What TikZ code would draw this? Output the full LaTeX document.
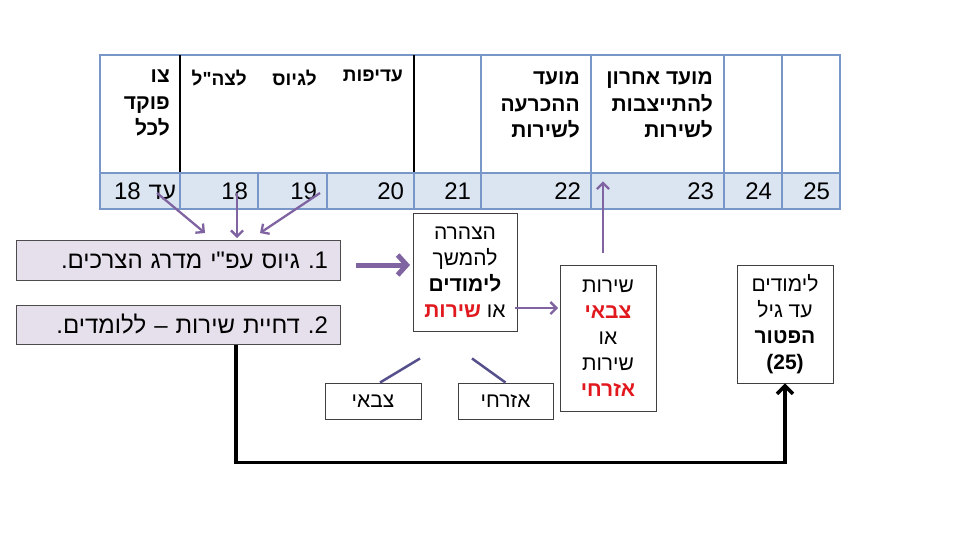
\documentclass[tikz,border=0pt]{standalone}
\usepackage{fontspec}
\setmainfont{Liberation Sans}[Script=Hebrew, Ligatures=TeXOff]
\usetikzlibrary{arrows.meta}
\TeXXeTstate=1
\frenchspacing
\newcommand{\hebline}[1]{\beginR #1\endR}
\newcommand{\hebred}[1]{\textcolor{hebred}{\textbf{\hebline{#1}}}}

\definecolor{tblue}{RGB}{120,150,200}
\definecolor{rowfill}{RGB}{219,229,241}
\definecolor{arrowpurple}{RGB}{128,100,162}
\definecolor{boxlilac}{RGB}{229,224,236}
\definecolor{hebred}{RGB}{225,25,30}
\definecolor{slateline}{RGB}{85,80,140}

\tikzset{
  numcell/.style={rectangle, draw=tblue, fill=rowfill, line width=1.2pt, minimum height=36pt,
    inner xsep=10pt, inner ysep=0pt, align=right, font=\fontsize{24}{26}\selectfont},
  hdr/.style={anchor=north east, inner sep=0pt, align=right, font=\bfseries\fontsize{21}{26.5}\selectfont},
  graybox/.style={rectangle, draw=black!70, fill=boxlilac, line width=1pt, minimum height=40pt,
    inner xsep=12pt, text width=300pt, align=right, font=\fontsize{24}{26}\selectfont},
  whitebox/.style={rectangle, draw=black!75, fill=white, line width=0.9pt, inner sep=0pt,
    align=center, font=\fontsize{21}{26}\selectfont},
  parrow/.style={draw=arrowpurple, line width=2.3pt, -{Straight Barb[length=6pt,width=12pt]}},
  bigarrow/.style={draw=arrowpurple, line width=5pt, -{Straight Barb[length=9pt,width=20pt]}},
  tline/.style={draw=slateline, line width=2.5pt},
  barrow/.style={draw=black, line width=3.5pt, -{Straight Barb[length=8pt,width=16pt]}}
}

\begin{document}
\begin{tikzpicture}[x=1pt, y=-1pt]
  \fill[white] (0,0) rectangle (955,536);
  \useasboundingbox (0,0) rectangle (955,536);

  % table, header row
  \draw[tblue, line width=1.2pt] (100,55) rectangle (840,173);
  \draw[tblue, line width=1.2pt] (481,55) -- (481,173) (591,55) -- (591,173)
    (724,55) -- (724,173) (782,55) -- (782,173);
  \draw[black, line width=1.2pt] (180,55) -- (180,173) (414,55) -- (414,173);

  % table, age row
  \node[numcell, inner xsep=4pt, text width=72pt] (c18a) at (140,191) {\hebline{עד \beginL18\endL}\hspace*{6pt}};
  \node[numcell, text width=58pt] (c18) at (219,191) {18};
  \node[numcell, text width=49pt] (c19) at (292.5,191) {19};
  \node[numcell, text width=67pt] (c20) at (370.5,191) {20};
  \node[numcell, text width=47pt] (c21) at (447.5,191) {21};
  \node[numcell, text width=90pt] (c22) at (536,191) {22};
  \node[numcell, text width=113pt] (c23) at (657.5,191) {23};
  \node[numcell, text width=38pt] (c24) at (753,191) {24};
  \node[numcell, text width=38pt] (c25) at (811,191) {25};

  % header texts
  \node[hdr] (hTzav) at (170,70) {\hebline{צו}\\\hebline{פוקד}\\\hebline{לכל}};
  \node[hdr, font=\bfseries\fontsize{19}{26}\selectfont] (hAdifut) at (403,70) {\hebline{עדיפות}};
  \node[hdr, font=\bfseries\fontsize{19}{26}\selectfont] (hGius) at (317,70) {\hebline{לגיוס}};
  \node[hdr, font=\bfseries\fontsize{19}{26}\selectfont] (hTzahal) at (247,70) {\hebline{לצה"ל}};
  \node[hdr] (hHachraa) at (580,72) {\hebline{מועד}\\\hebline{ההכרעה}\\\hebline{לשירות}};
  \node[hdr] (hHityatzvut) at (713,72) {\hebline{מועד אחרון}\\\hebline{להתייצבות}\\\hebline{לשירות}};

  % boxes
  \node[graybox] (gius) at (178,260) {\hebline{1. גיוס עפ"י מדרג הצרכים.}};
  \node[graybox, minimum height=39pt] (dchiya) at (178,324.5) {\hebline{2. דחיית שירות – ללומדים.}};
  \node[whitebox, minimum width=104pt, minimum height=118pt] (hatzhara) at (465,272)
    {\hebline{הצהרה}\\\hebline{להמשך}\\\hebline{\textbf{לימודים}}\\\hebred{שירות} \hebline{או}};
  \node[whitebox, minimum width=96pt, minimum height=146pt] (sherut) at (608,338)
    {\hebline{שירות}\\\hebred{צבאי}\\\hebline{או}\\\hebline{שירות}\\\hebred{אזרחי}};
  \node[whitebox, minimum width=96pt, minimum height=36pt] (tzvai) at (373,401) {\hebline{צבאי}};
  \node[whitebox, minimum width=95pt, minimum height=36pt] (ezrachi) at (505.5,401) {\hebline{אזרחי}};
  \node[whitebox, minimum width=96pt, minimum height=118pt] (ptor) at (785,324)
    {\hebline{לימודים}\\\hebline{עד גיל}\\\hebline{\textbf{הפטור}}\\\textbf{(25)}};

  % arrows
  \coordinate (from18a) at (157,193);
  \coordinate (to18a) at (205,233);
  \coordinate (from18) at (237,193);
  \coordinate (to18) at (237,238);
  \coordinate (from19) at (320,193);
  \coordinate (to19) at (260,233);
  \coordinate (bigTip) at (410,265);
  \coordinate (sherutIn) at (558,308);
  \draw[parrow] (from18a) -- (to18a);
  \draw[parrow] (from18) -- (to18);
  \draw[parrow] (from19) -- (to19);
  \draw[bigarrow] ([xshift=15pt,yshift=-5pt]gius.east) -- (bigTip);
  \draw[parrow] ([xshift=-2pt,yshift=-36pt]hatzhara.east) -- (sherutIn);
  \draw[parrow] ([xshift=-5pt,yshift=12pt]sherut.north) -- ([xshift=-54.5pt,yshift=-9pt]c23.north);
  \draw[tline] ([xshift=-45pt,yshift=-27pt]hatzhara.south) -- ([xshift=7pt]tzvai.north);
  \draw[tline] ([xshift=7pt,yshift=-27pt]hatzhara.south) -- (ezrachi.north);
  \draw[barrow] ([xshift=58pt]dchiya.south) -- ++(0,118) -| (ptor.south);
\end{tikzpicture}
\end{document}
